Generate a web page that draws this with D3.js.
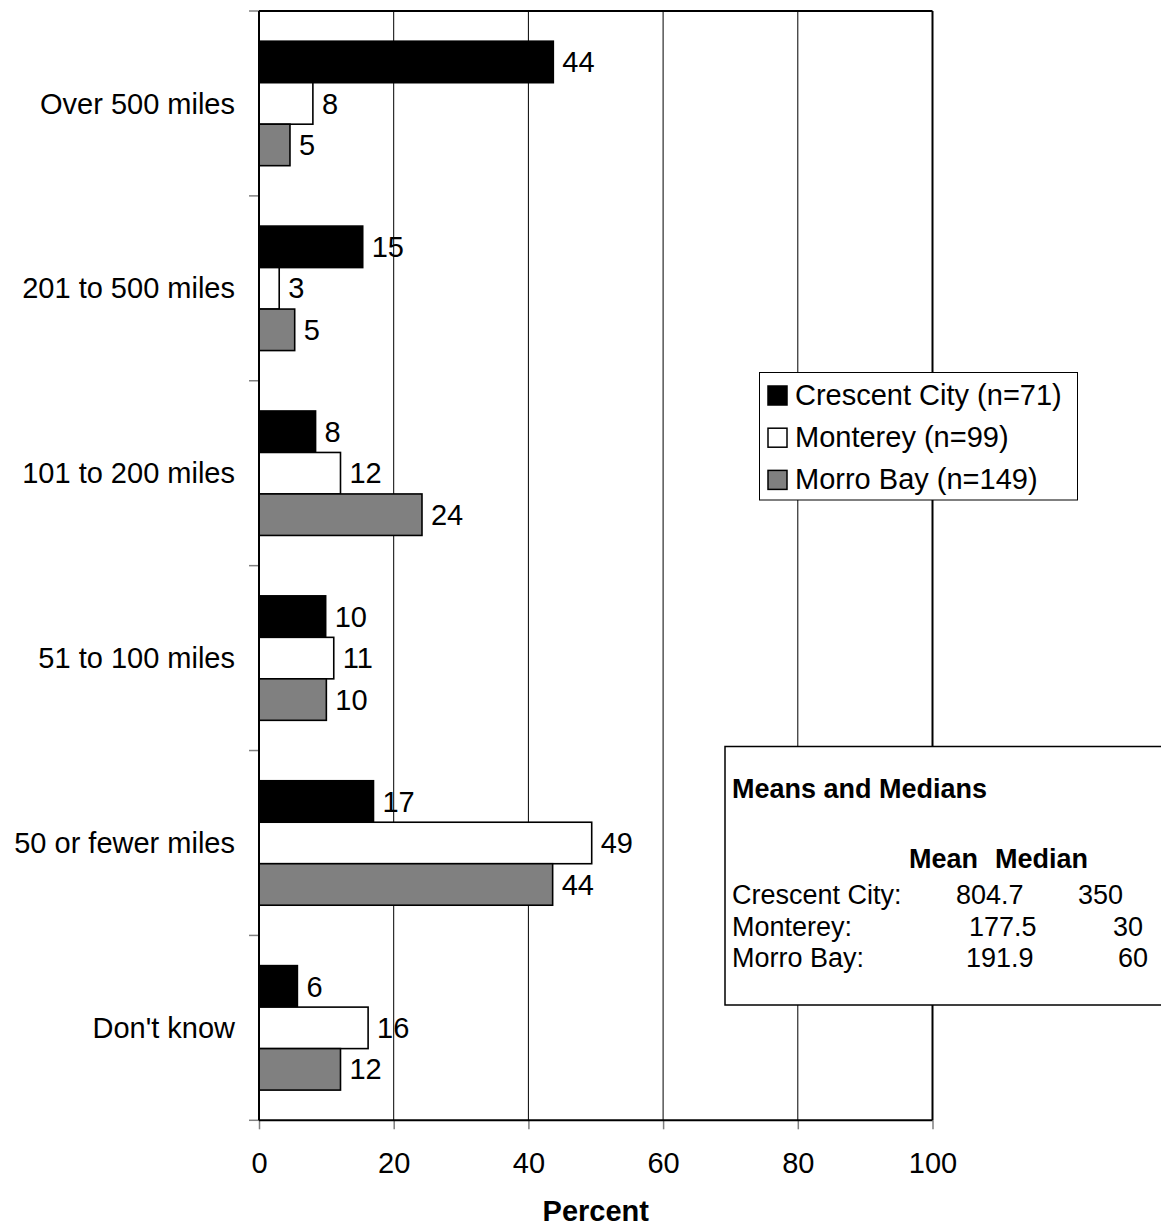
<!DOCTYPE html>
<html>
<head>
<meta charset="utf-8">
<script src="https://cdn.jsdelivr.net/npm/d3@7"></script>
<style>
  html, body { margin: 0; padding: 0; background: #fff; }
  svg { display: block; font-family: Arial, "Liberation Sans", sans-serif; }
</style>
</head>
<body>
<svg id="chart" width="1161" height="1228"></svg>
<script>
// ---- data ----
const categories = ["Over 500 miles", "201 to 500 miles", "101 to 200 miles", "51 to 100 miles", "50 or fewer miles", "Don't know"];
const seriesNames = ["Crescent City (n=71)", "Monterey (n=99)", "Morro Bay (n=149)"];
const crescentCity = [43.7, 15.4, 8.4, 9.9, 17.0, 5.7];
const monterey     = [8.0, 3.0, 12.1, 11.1, 49.4, 16.2];
const morroBay     = [4.6, 5.3, 24.2, 10.0, 43.6, 12.1];
const xTicks = [0, 20, 40, 60, 80, 100];
const statsTitle = "Means and Medians";
const statsHeader = ["Mean", "Median"];
const statsRows = ["Crescent City:", "Monterey:", "Morro Bay:"];
const statsMeans = ["804.7", "177.5", "191.9"];
const statsMedians = ["350", "30", "60"];

const seriesValues = [crescentCity, monterey, morroBay];
const seriesColors = ["#000000", "#ffffff", "#808080"];

// ---- layout ----
const svg = d3.select("#chart");
const pLeft = 259, pRight = 932.5, pTop = 11, pBottom = 1120.3;
const FS = 29;

const x = d3.scaleLinear().domain([0, 100]).range([pLeft, pRight]);
const y = d3.scaleBand().domain(categories).range([pTop, pBottom]).padding(0);
const yInner = d3.scaleBand().domain(d3.range(seriesNames.length))
  .range([0, y.bandwidth()]).paddingInner(0).paddingOuter(0.728);

// gridlines
svg.append("g").selectAll("line")
  .data(xTicks.filter(t => t > 0 && t < 100))
  .join("line")
  .attr("x1", d => x(d)).attr("x2", d => x(d))
  .attr("y1", pTop).attr("y2", pBottom)
  .attr("stroke", "#000").attr("stroke-width", 1);

// top & right frame
svg.append("line").attr("x1", pLeft).attr("x2", pRight).attr("y1", pTop).attr("y2", pTop)
  .attr("stroke", "#000").attr("stroke-width", 2);
svg.append("line").attr("x1", pRight).attr("x2", pRight).attr("y1", pTop).attr("y2", pBottom)
  .attr("stroke", "#000").attr("stroke-width", 2);

// left ticks at band boundaries
const boundaries = categories.map(c => y(c)).concat([pBottom]);
svg.append("g").selectAll("line").data(boundaries).join("line")
  .attr("x1", pLeft - 10).attr("x2", pLeft)
  .attr("y1", d => d).attr("y2", d => d)
  .attr("stroke", "#808080").attr("stroke-width", 1.5);

// category labels
svg.append("g").selectAll("text").data(categories).join("text")
  .attr("x", pLeft - 24)
  .attr("y", d => y(d) + y.bandwidth() / 2)
  .attr("dy", "0.35em")
  .attr("text-anchor", "end")
  .attr("font-size", FS)
  .text(d => d);

// bottom axis
const xAxis = d3.axisBottom(x).tickValues(xTicks).tickSize(9).tickPadding(23).tickFormat(d3.format("d"));
const gx = svg.append("g").attr("transform", `translate(0,${pBottom})`).call(xAxis);
gx.select(".domain").remove();
gx.selectAll(".tick line").attr("stroke", "#808080").attr("stroke-width", 1.5);
gx.selectAll(".tick text").attr("font-size", FS).attr("font-family", "Arial, 'Liberation Sans', sans-serif").attr("fill", "#000");

// bars
const groups = svg.append("g").selectAll("g").data(categories).join("g")
  .attr("transform", d => `translate(0,${y(d)})`);

groups.each(function(cat, ci) {
  const g = d3.select(this);
  seriesValues.forEach((vals, si) => {
    g.append("rect")
      .attr("x", x(0))
      .attr("y", yInner(si))
      .attr("width", x(vals[ci]) - x(0))
      .attr("height", yInner.bandwidth())
      .attr("fill", seriesColors[si])
      .attr("stroke", "#000")
      .attr("stroke-width", 1.6);
    g.append("text")
      .attr("x", x(vals[ci]) + 9)
      .attr("y", yInner(si) + yInner.bandwidth() / 2)
      .attr("dy", "0.35em")
      .attr("font-size", FS)
      .text(Math.round(vals[ci]));
  });
});

// left axis & bottom axis lines
svg.append("line").attr("x1", pLeft).attr("x2", pLeft).attr("y1", pTop).attr("y2", pBottom)
  .attr("stroke", "#000").attr("stroke-width", 2);
svg.append("line").attr("x1", pLeft).attr("x2", pRight).attr("y1", pBottom).attr("y2", pBottom)
  .attr("stroke", "#000").attr("stroke-width", 2);

// x axis title
svg.append("text")
  .attr("x", (pLeft + pRight) / 2).attr("y", 1221)
  .attr("text-anchor", "middle")
  .attr("font-size", FS).attr("font-weight", "bold")
  .text("Percent");

// legend
const lg = svg.append("g");
lg.append("rect").attr("x", 759.5).attr("y", 372.5).attr("width", 318).attr("height", 127.5)
  .attr("fill", "#fff").attr("stroke", "#000").attr("stroke-width", 1);
seriesNames.forEach((name, i) => {
  const base = 405 + i * 42.2;
  lg.append("rect").attr("x", 768).attr("y", base - 19).attr("width", 19).attr("height", 19)
    .attr("fill", seriesColors[i]).attr("stroke", "#000").attr("stroke-width", 1.5);
  lg.append("text").attr("x", 795).attr("y", base).attr("font-size", FS).text(name);
});

// stats box
const sb = svg.append("g");
const SF = 27;
sb.append("rect").attr("x", 725).attr("y", 746.5).attr("width", 460).attr("height", 258.5)
  .attr("fill", "#fff").attr("stroke", "#000").attr("stroke-width", 1.5);
sb.append("text").attr("x", 732).attr("y", 798).attr("font-size", SF).attr("font-weight", "bold").text(statsTitle);
sb.append("text").attr("x", 909).attr("y", 868).attr("font-size", SF).attr("font-weight", "bold").text(statsHeader[0]);
sb.append("text").attr("x", 995).attr("y", 868).attr("font-size", SF).attr("font-weight", "bold").text(statsHeader[1]);
const rowBase = [904, 936, 967];
const meanX = [956, 969, 966];
const medX = [1078, 1113, 1118];
statsRows.forEach((r, i) => {
  sb.append("text").attr("x", 732).attr("y", rowBase[i]).attr("font-size", SF).text(r);
  sb.append("text").attr("x", meanX[i]).attr("y", rowBase[i]).attr("font-size", SF).text(statsMeans[i]);
  sb.append("text").attr("x", medX[i]).attr("y", rowBase[i]).attr("font-size", SF).text(statsMedians[i]);
});
</script>
</body>
</html>
